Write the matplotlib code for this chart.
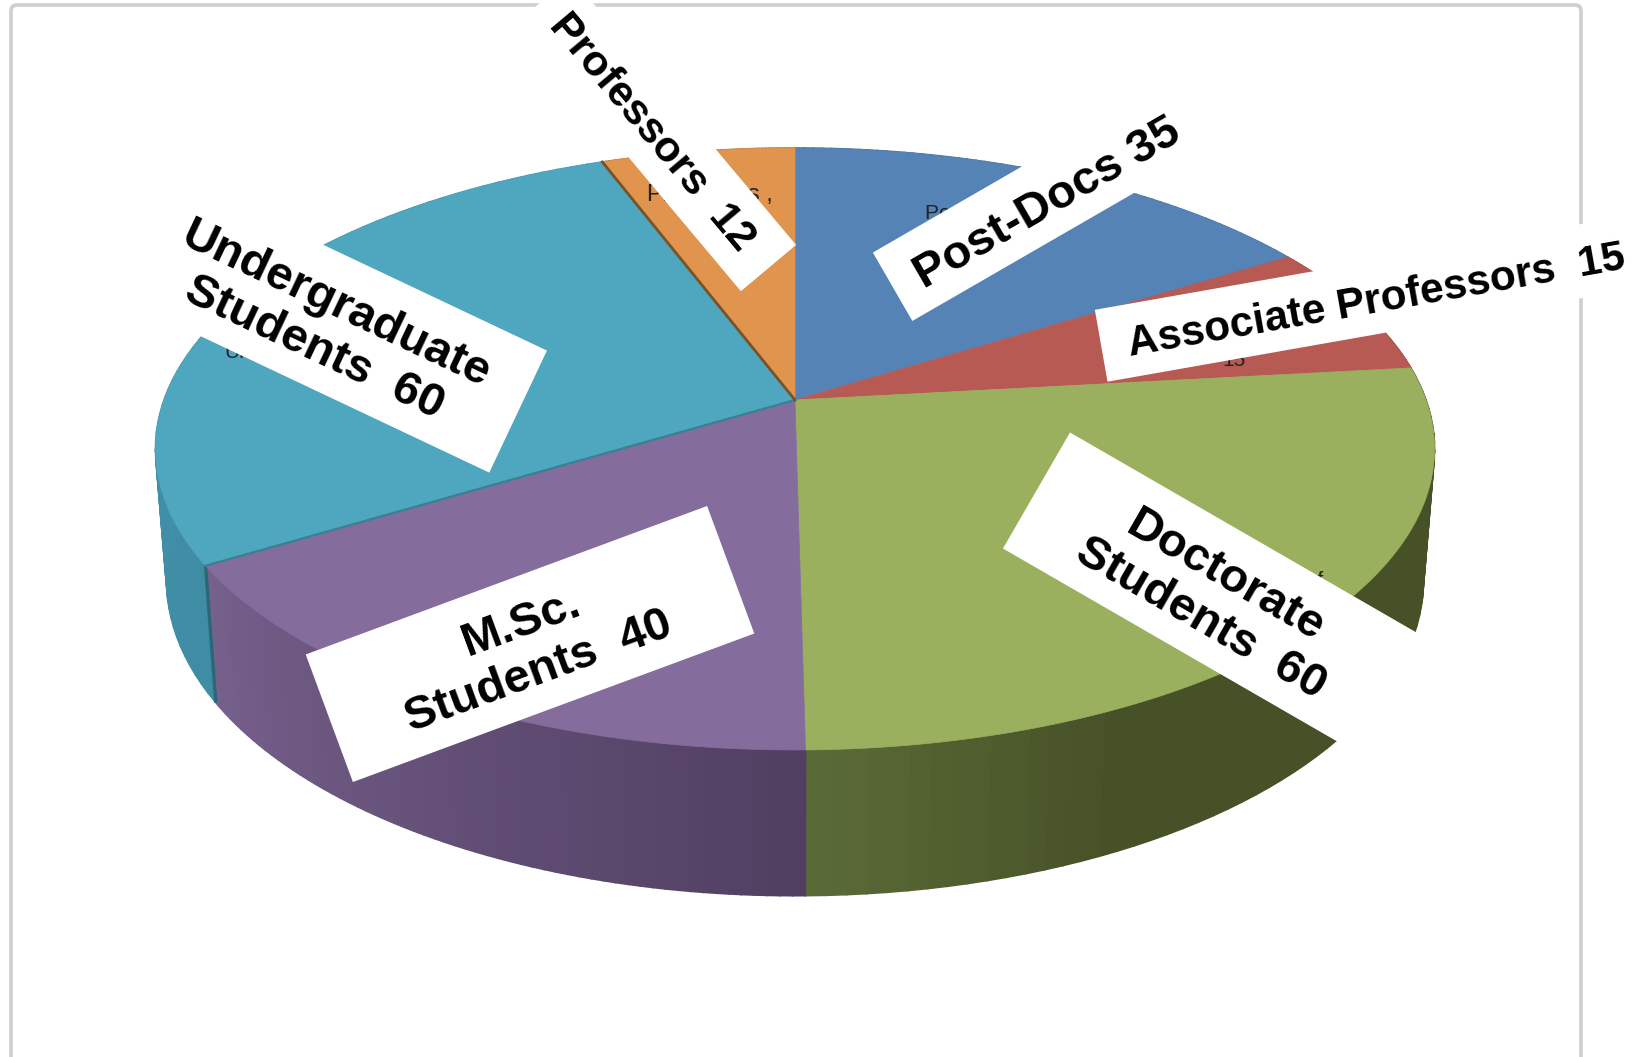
import numpy as np
import matplotlib
matplotlib.use("Agg")
import matplotlib.pyplot as plt
from matplotlib.patches import Polygon, FancyBboxPatch

plt.rcParams["font.family"] = ["Liberation Sans", "DejaVu Sans"]

# slices, clockwise from 12 o'clock
names = ["Post-Docs", "Associate Professors", "Doctorate Students",
         "M.Sc. Students", "Undergraduate Students", "Professors"]
counts = [35, 15, 60, 40, 60, 12]
# the drawn slices are not quite what the labels say, shares read off the picture (degrees)
shares = [58.0, 25.6, 95.6, 59.6, 100.6, 20.6]

top_colors = ["#5583B5", "#B85A54", "#9BB05F", "#846C9D", "#4FA6BF", "#E0944D"]
side_start = ["#4A7299", "#8E4541", "#465127", "#76608C", "#4496AE", "#B87A3C"]
side_end = ["#4A7299", "#8E4541", "#5B6B37", "#513F62", "#3F8DA5", "#B87A3C"]


def rim(theta, cy, rx, ry, cx=795, k=0.1628):
    # circle seen in perspective, theta in degrees clockwise from the top
    t = np.radians(theta)
    X, Y = np.sin(t), np.cos(t)
    d = 1 + k * Y
    return cx + rx * X / d, cy - ry * Y / d


def top_rim(theta):
    return rim(theta, 400, 631, 293)


def low_rim(theta):
    return rim(theta, 529, 620, 307)


def mix(c1, c2, f):
    a = np.array(matplotlib.colors.to_rgb(c1))
    b = np.array(matplotlib.colors.to_rgb(c2))
    return tuple(a + (b - a) * f)


fig = plt.figure(figsize=(16.47, 10.57), dpi=100)
ax = fig.add_axes([0, 0, 1, 1])
ax.set_xlim(0, 1647)
ax.set_ylim(1057, 0)
ax.axis("off")

# chart frame
ax.add_patch(FancyBboxPatch((11, 5), 1570, 1100, boxstyle="round,pad=0,rounding_size=6",
                            fc="white", ec="#CFCFCF", lw=2.6, zorder=0))

edges = np.concatenate([[0], np.cumsum(shares)])
edges = edges / edges[-1] * 360

# side wall, thin strips so the shading can change along it
for i in range(len(shares)):
    angs = np.linspace(edges[i], edges[i + 1], 61)
    for j in range(60):
        a0, a1 = angs[j], angs[j + 1]
        x0, y0 = top_rim(a0)
        x1, y1 = top_rim(a1)
        x2, y2 = low_rim(a1)
        x3, y3 = low_rim(a0)
        if i == 2:
            # green stays dark until the last stretch before the bottom
            f = max(0, 1 - (edges[3] - (a0 + a1) / 2) / 25)
        else:
            f = j / 59
        c = mix(side_start[i], side_end[i], f) if i == 2 else mix(side_end[i], side_start[i], f)
        ax.add_patch(Polygon([(x0, y0), (x1, y1), (x2, y2), (x3, y3)], closed=True,
                             fc=c, ec=c, lw=1.2, zorder=1))

# dark edge on the teal wall where it meets the purple one
x0, y0 = top_rim(edges[4])
x1, y1 = low_rim(edges[4])
ax.plot([x0, x1], [y0, y1], color="#2B6777", lw=2.4, zorder=2, solid_capstyle="butt")

# top faces
for i in range(len(shares)):
    angs = np.linspace(edges[i], edges[i + 1], 120)
    xs, ys = top_rim(angs)
    pts = [(795, 400)] + list(zip(xs, ys))
    ax.add_patch(Polygon(pts, closed=True, fc=top_colors[i], ec=top_colors[i], lw=0.5, zorder=3))

# shadow lines along two of the spokes
x0, y0 = top_rim(edges[4])
ax.plot([795, x0], [400, y0], color="#3A8093", lw=1.6, zorder=4)
x0, y0 = top_rim(edges[5])
ax.plot([795, x0], [400, y0], color="#7A5228", lw=2.0, zorder=4)

# the original small labels, mostly hidden under the white boxes
small = dict(color="#222222", ha="left", va="center", zorder=5)
ax.text(925, 213, "Post-Docs , 35", fontsize=15, **small)
ax.text(647, 195, "Professors ,", fontsize=17, **small)
ax.text(1222, 360, "15", fontsize=15, **small)
ax.text(1285, 580, "Prof.", fontsize=15, **small)
ax.text(224, 352, "Undergraduate", fontsize=15, **small)

# white label boxes: centre x, centre y, width, height, angle
boxes = [
    (1029, 208, 315, 79, 30),
    (1372, 298, 550, 73, 10),
    (1240, 608, 470, 134, -30),
    (530, 644, 428, 136, 20.3),
    (373, 343, 321, 135, -25.3),
    (656, 134, 350, 72, -50),
]
label_text = ["Post-Docs %d" % counts[0],
              "Associate Professors  %d" % counts[1],
              "Doctorate\nStudents  %d" % counts[2],
              "M.Sc.\nStudents  %d" % counts[3],
              "Undergraduate\nStudents  %d" % counts[4],
              "Professors  %d" % counts[5]]
text_pos = [(1048, 204), (1376, 301), (1213, 598), (530, 648), (325, 327), (652, 132)]
text_size = [34, 30.5, 34, 34, 34, 31]
text_gap = [1.0, 1.0, 1.15, 1.22, 1.12, 1.0]

for b, s, p, fs, gap in zip(boxes, label_text, text_pos, text_size, text_gap):
    cx, cy, w, h, ang = b
    t = np.radians(ang)
    ux, uy = np.cos(t), -np.sin(t)
    vx, vy = np.sin(t), np.cos(t)
    corners = [(cx - ux * w / 2 - vx * h / 2, cy - uy * w / 2 - vy * h / 2),
               (cx + ux * w / 2 - vx * h / 2, cy + uy * w / 2 - vy * h / 2),
               (cx + ux * w / 2 + vx * h / 2, cy + uy * w / 2 + vy * h / 2),
               (cx - ux * w / 2 + vx * h / 2, cy - uy * w / 2 + vy * h / 2)]
    ax.add_patch(Polygon(corners, closed=True, fc="white", ec="none", zorder=6))
    ax.text(p[0], p[1], s, rotation=ang, rotation_mode="anchor", ha="center", va="center",
            multialignment="center", fontsize=fs, fontweight="bold", color="black",
            linespacing=gap, zorder=7)

fig.savefig("out.png", dpi=100)
